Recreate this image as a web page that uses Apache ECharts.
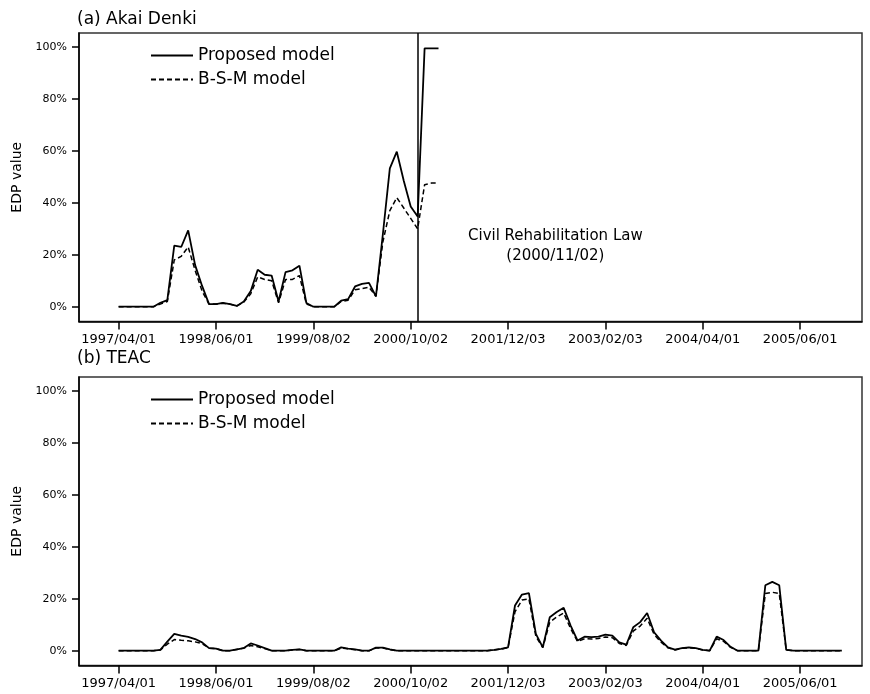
<!DOCTYPE html>
<html>
<head>
<meta charset="utf-8">
<title>EDP value</title>
<script src="https://cdn.jsdelivr.net/npm/echarts@6/dist/echarts.min.js"></script>
<style>
    html, body { margin: 0; padding: 0; background: #fff; }
    #main { width: 870px; height: 694px; }
</style>
</head>
<body>
<div id="main"></div>
<script>
// 横轴刻度标签 (每14个月一个刻度, 数据按月)
var tickLabels = ['1997/04/01', '1998/06/01', '1999/08/02', '2000/10/02', '2001/12/03', '2003/02/03', '2004/04/01', '2005/06/01'];
var tickStep = 14;
// 纵轴刻度 (%)
var yTicks = [0, 20, 40, 60, 80, 100];
// 事件: 民事再生法 2000/11/02 (第43个月)
var eventIndex = 43;
var eventText = ['Civil Rehabilitation Law', '(2000/11/02)'];
var seriesNames = ['Proposed model', 'B-S-M model'];

// (a) Akai Denki, 1997/04 起每月一个值 (%)
var akaiProposed = [0, 0, 0, 0, 0, 0, 1.5, 2.5, 23.5, 23, 29.4, 16, 8, 1, 1, 1.5, 1, 0.3, 2, 6,
    14.2, 12.3, 12, 2, 13.3, 14, 15.8, 1.4, 0, 0, 0, 0, 2.3, 2.9, 7.8, 8.8, 9.2, 4, 28, 53.3,
    59.7, 48.5, 38.6, 34.7, 99.5, 99.5, 99.5];
var akaiBSM = [0, 0, 0, 0, 0, 0, 1, 2, 18, 19.4, 23, 14, 6, 1, 1, 1.3, 1, 0.3, 1.8, 5,
    11.5, 10.5, 10, 1.5, 10.5, 10.5, 12, 1, 0, 0, 0, 0, 2, 2.5, 6.5, 7, 7.5, 4, 25, 37,
    42, 38, 34, 30, 47, 47.6, 47.6];

// (b) TEAC
var teacProposed = [0, 0, 0, 0, 0, 0, 0.3, 3.5, 6.5, 5.8, 5.3, 4.5, 3.2, 1, 0.8, 0, 0, 0.5, 1, 2.8,
    2, 1, 0, 0, 0, 0.3, 0.5, 0, 0, 0, 0, 0, 1.3, 0.8, 0.5, 0, 0, 1.2, 1.2, 0.5,
    0, 0, 0, 0, 0, 0, 0, 0, 0, 0, 0, 0, 0, 0, 0.3, 0.7, 1.3, 17.4, 21.6, 22.2,
    6.5, 1.3, 12.9, 14.9, 16.5, 9.7, 3.9, 5.4, 5.2, 5.4, 6.2, 5.8, 3.2, 2.3, 9, 11, 14.5, 7.1, 3.9, 1.3,
    0.4, 1, 1.3, 1, 0.3, 0, 5.4, 4.1, 1.5, 0, 0, 0, 0, 25.2, 26.5, 25.2, 0.3, 0, 0, 0,
    0, 0, 0, 0, 0];
var teacBSM = [0, 0, 0, 0, 0, 0, 0.3, 2.5, 4.3, 4, 3.8, 3.4, 2.7, 1, 0.8, 0, 0, 0.5, 1, 2,
    1.5, 0.8, 0, 0, 0, 0.3, 0.5, 0, 0, 0, 0, 0, 1, 0.7, 0.4, 0, 0, 1, 1, 0.4,
    0, 0, 0, 0, 0, 0, 0, 0, 0, 0, 0, 0, 0, 0, 0.3, 0.6, 1.2, 15, 19.5, 20,
    5.5, 1.2, 11, 13, 14.5, 8.5, 3.5, 4.6, 4.5, 4.7, 5.3, 5, 2.8, 2, 7.5, 9.5, 12.5, 6.3, 3.3, 1.1,
    0.3, 0.9, 1.1, 0.9, 0.3, 0, 4.6, 3.6, 1.3, 0, 0, 0, 0, 22, 22.5, 22, 0.3, 0, 0, 0,
    0, 0, 0, 0, 0];

(function () {
    var font = 'DejaVu Sans';
    var myChart = echarts.init(document.getElementById('main'));

    // 月序号 -> [x, y]
    function toPairs(arr) {
        return arr.map(function (v, i) { return [i, v]; });
    }
    var xTickValues = tickLabels.map(function (s, i) { return i * tickStep; });

    // 两个子图共用的坐标轴样式
    function makeX(gridIndex) {
        return {
            type: 'value',
            gridIndex: gridIndex,
            min: -5.7,
            max: 106.9,
            axisLine: { onZero: false, lineStyle: { color: '#000', width: 1.5 } },
            axisTick: { customValues: xTickValues, length: 8, lineStyle: { color: '#000', width: 1.5 } },
            axisLabel: {
                customValues: xTickValues,
                margin: 12,
                color: '#000',
                fontFamily: font,
                fontSize: 13,
                formatter: function (v) { return tickLabels[Math.round(v / tickStep)]; }
            },
            splitLine: { show: false }
        };
    }
    function makeY(gridIndex) {
        return {
            type: 'value',
            gridIndex: gridIndex,
            min: -5.7,
            max: 105.4,
            name: 'EDP value',
            nameLocation: 'middle',
            nameGap: 54,
            nameTextStyle: { color: '#000', fontFamily: font, fontSize: 14 },
            axisLine: { onZero: false, lineStyle: { color: '#000', width: 1.5 } },
            axisTick: { customValues: yTicks, length: 7, lineStyle: { color: '#000', width: 1.5 } },
            axisLabel: {
                customValues: yTicks,
                margin: 12,
                color: '#000',
                fontFamily: font,
                fontSize: 11,
                formatter: '{value}%'
            },
            splitLine: { show: false }
        };
    }
    // 图例: 只画线, 不画圆点
    function makeLegend(top) {
        return {
            orient: 'vertical',
            left: 145,
            top: top,
            itemWidth: 42,
            itemHeight: 10,
            itemGap: 7,
            selectedMode: false,
            itemStyle: { opacity: 0 },
            data: seriesNames,
            textStyle: { color: '#000', fontFamily: font, fontSize: 17 }
        };
    }
    var solid = { color: '#000', width: 1.8, type: 'solid' };
    var dashed = { color: '#000', width: 1.5, type: [5, 3] };

    var option = {
        backgroundColor: '#fff',
        animation: false,
        color: ['#000', '#000'],
        title: [
            { text: '(a) Akai Denki', left: 77, top: 11, padding: 0,
              textStyle: { color: '#000', fontFamily: font, fontSize: 17, fontWeight: 'normal' } },
            { text: '(b) TEAC', left: 77, top: 350, padding: 0,
              textStyle: { color: '#000', fontFamily: font, fontSize: 17, fontWeight: 'normal' } }
        ],
        legend: [makeLegend(42), makeLegend(386)],
        grid: [
            { left: 79, top: 33, width: 783, height: 288.5, show: true, borderColor: '#333', borderWidth: 1.5 },
            { left: 79, top: 377, width: 783, height: 288.5, show: true, borderColor: '#333', borderWidth: 1.5 }
        ],
        xAxis: [makeX(0), makeX(1)],
        yAxis: [makeY(0), makeY(1)],
        graphic: [
            {
                type: 'text',
                left: 468,
                top: 226,
                style: {
                    text: eventText.join('\n'),
                    fill: '#000',
                    font: '15px "DejaVu Sans"',
                    textAlign: 'center',
                    lineHeight: 20
                }
            }
        ],
        series: [
            {
                name: seriesNames[0], type: 'line', xAxisIndex: 0, yAxisIndex: 0,
                data: toPairs(akaiProposed), symbol: 'none', lineStyle: solid,
                markLine: {
                    silent: true,
                    symbol: 'none',
                    label: { show: false },
                    lineStyle: { color: '#000', width: 1.5, type: 'solid' },
                    data: [{ xAxis: eventIndex }]
                }
            },
            {
                name: seriesNames[1], type: 'line', xAxisIndex: 0, yAxisIndex: 0,
                data: toPairs(akaiBSM), symbol: 'none', lineStyle: dashed
            },
            {
                name: seriesNames[0], type: 'line', xAxisIndex: 1, yAxisIndex: 1,
                data: toPairs(teacProposed), symbol: 'none', lineStyle: solid
            },
            {
                name: seriesNames[1], type: 'line', xAxisIndex: 1, yAxisIndex: 1,
                data: toPairs(teacBSM), symbol: 'none', lineStyle: dashed
            }
        ]
    };

    myChart.setOption(option);
    window.addEventListener('resize', function () {
        myChart.resize();
    });
})();
</script>
</body>
</html>
